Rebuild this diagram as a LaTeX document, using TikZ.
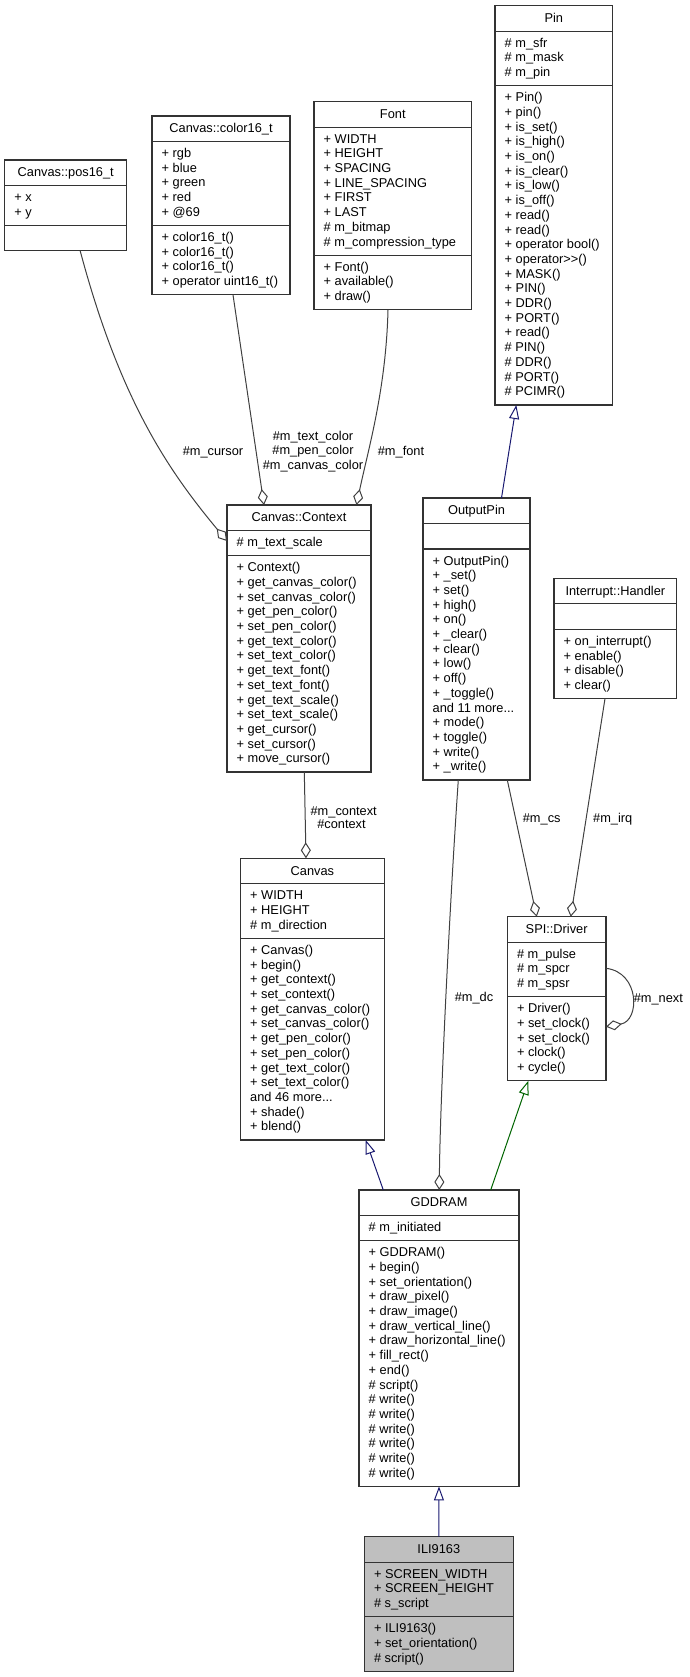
\documentclass[tikz,border=0pt]{standalone}
\usepackage{fontspec}
\setmainfont{Liberation Sans}
\usetikzlibrary{arrows.meta,calc}
\definecolor{edgegray}{HTML}{404040}
\definecolor{boxline}{HTML}{333333}
\definecolor{midblue}{HTML}{191970}
\definecolor{dkgreen}{HTML}{006400}
\definecolor{focusgray}{HTML}{BFBFBF}
\def\boxfill{white}
\newcommand\mdots{...}
\tikzset{
  classbox/.style={draw=boxline, line width=1.1pt, inner sep=0pt, outer sep=0pt},
  sepline/.style={draw=boxline, line width=1.1pt},
  txt/.style={inner sep=0pt, font=\fontsize{12.8}{14.7}\selectfont},
  lbl/.style={inner sep=0pt, anchor=base, font=\fontsize{12.8}{14.7}\selectfont},
  usage/.style={draw=edgegray, line width=1pt, -{Diamond[open, length=16pt, width=10pt, line width=1pt]}},
  inherit/.style={draw=midblue, line width=1pt, -{Triangle[open, length=14pt, width=10pt, line width=1pt]}},
  inheritp/.style={draw=dkgreen, line width=1pt, -{Triangle[open, length=14pt, width=10pt, line width=1pt]}}
}
% #1 name, #2 x, #3 y (top), #4 width, #5 title, #6 n attrs, #7 attrs, #8 n methods, #9 methods
\newcommand\umlclass[9]{%
  \pgfmathsetmacro\hT{25.5}%
  \pgfmathsetmacro\hA{(#6==0)*25.5+(#6>0)*(14.7*#6+10.5)}%
  \pgfmathsetmacro\hM{(#8==0)*25.5+(#8>0)*(14.7*#8+10.5)}%
  \pgfmathsetmacro\hH{\hT+\hA+\hM}%
  \pgfmathsetmacro\hB{\hT+\hA}%
  \node[classbox, fill=\boxfill, minimum width=#4pt, minimum height=\hH pt, anchor=north west] (#1) at (#2,#3) {};
  \node[txt, anchor=base] (#1-t) at ($(#1.north)+(0,16.8)$) {#5};
  \draw[sepline] ($(#1.north west)+(0,\hT)$) -- ($(#1.north east)+(0,\hT)$);
  \draw[sepline] ($(#1.north west)+(0,\hB)$) -- ($(#1.north east)+(0,\hB)$);
  \ifnum#6>0
    \foreach \itm [count=\cnt] in {#7} {\node[txt, anchor=base west] (#1-a\cnt) at ($(#1.north west)+(9.5,\hT+16+14.7*\cnt-14.7)$) {\itm};}
  \fi
  \ifnum#8>0
    \foreach \itm [count=\cnt] in {#9} {\node[txt, anchor=base west] (#1-m\cnt) at ($(#1.north west)+(9.5,\hB+16+14.7*\cnt-14.7)$) {\itm};}
  \fi
}
\begin{document}
\begin{tikzpicture}[x=1pt, y=-1pt]
\useasboundingbox (0,0) rectangle (690,1677);

\umlclass{pin}{495}{5.7}{117.7}{Pin}{3}{\# m\_sfr, \# m\_mask, \# m\_pin}{21}{+ Pin(), + pin(), + is\_set(), + is\_high(), + is\_on(), + is\_clear(), + is\_low(), + is\_off(), + read(), + read(), + operator bool(), + operator>{}>(), + MASK(), + PIN(), + DDR(), + PORT(), + read(), \# PIN(), \# DDR(), \# PORT(), \# PCIMR()}

\umlclass{pos}{4.7}{160}{122}{Canvas::pos16\_t}{2}{+ x, + y}{0}{}

\umlclass{col}{152}{116}{138}{Canvas::color16\_t}{5}{+ rgb, + blue, + green, + red, + @69}{4}{+ color16\_t(), + color16\_t(), + color16\_t(), + operator uint16\_t()}

\umlclass{font}{314}{101.7}{157.5}{Font}{8}{+ WIDTH, + HEIGHT, + SPACING, + LINE\_SPACING, + FIRST, + LAST, \# m\_bitmap, \# m\_compression\_type}{3}{+ Font(), + available(), + draw()}

\umlclass{ctx}{227}{505}{144}{Canvas::Context}{1}{\# m\_text\_scale}{14}{+ Context(), + get\_canvas\_color(), + set\_canvas\_color(), + get\_pen\_color(), + set\_pen\_color(), + get\_text\_color(), + set\_text\_color(), + get\_text\_font(), + set\_text\_font(), + get\_text\_scale(), + set\_text\_scale(), + get\_cursor(), + set\_cursor(), + move\_cursor()}

\umlclass{op}{423}{498}{107}{OutputPin}{0}{}{15}{+ OutputPin(), + \_set(), + set(), + high(), + on(), + \_clear(), + clear(), + low(), + off(), + \_toggle(), and 11 more\mdots, + mode(), + toggle(), + write(), + \_write()}

\umlclass{hd}{554}{578.3}{122.7}{Interrupt::Handler}{0}{}{4}{+ on\_interrupt(), + enable(), + disable(), + clear()}

\umlclass{cv}{240.5}{858.3}{143.8}{Canvas}{3}{+ WIDTH, + HEIGHT, \# m\_direction}{13}{+ Canvas(), + begin(), + get\_context(), + set\_context(), + get\_canvas\_color(), + set\_canvas\_color(), + get\_pen\_color(), + set\_pen\_color(), + get\_text\_color(), + set\_text\_color(), and 46 more\mdots, + shade(), + blend()}

\umlclass{spi}{507.3}{916.7}{98.7}{SPI::Driver}{3}{\# m\_pulse, \# m\_spcr, \# m\_spsr}{5}{+ Driver(), + set\_clock(), + set\_clock(), + clock(), + cycle()}

\umlclass{gd}{359}{1190}{160}{GDDRAM}{1}{\# m\_initiated}{16}{+ GDDRAM(), + begin(), + set\_orientation(), + draw\_pixel(), + draw\_image(), + draw\_vertical\_line(), + draw\_horizontal\_line(), + fill\_rect(), + end(), \# script(), \# write(), \# write(), \# write(), \# write(), \# write(), \# write()}

\def\boxfill{focusgray}
\umlclass{ili}{364.3}{1536.7}{149}{ILI9163}{3}{+ SCREEN\_WIDTH, + SCREEN\_HEIGHT, \# s\_script}{3}{+ ILI9163(), + set\_orientation(), \# script()}

% connectors
\draw[usage] ($(pos.south west)+(75.5,0)$) .. controls (120,400) and (168,470) .. ($(ctx.north west)+(0,36)$);
\draw[usage] ($(col.south west)+(81,0)$) -- ($(ctx.north west)+(37,0)$);
\draw[usage] ($(font.south west)+(74,0)$) .. controls (386,390) and (368,450) .. ($(ctx.north west)+(129.5,0)$);
\draw[usage] ($(ctx.south west)+(77.3,0)$) -- ($(cv.north west)+(65.5,0)$);
\draw[inherit] ($(op.north west)+(78.5,0)$) -- ($(pin.south west)+(21.3,0)$);
\draw[usage] ($(op.south west)+(35.3,0)$) .. controls (450,900) and (440,1100) .. ($(gd.north west)+(80.3,0)$);
\draw[usage] ($(op.south west)+(84.3,0)$) -- ($(spi.north west)+(29.4,0)$);
\draw[usage] ($(hd.south west)+(51,0)$) -- ($(spi.north west)+(63.4,0)$);
\draw[usage] ($(spi.north east)+(0,51.6)$) .. controls +(34,4) and +(34,-6) .. ($(spi.north east)+(0,110)$);
\draw[inherit] ($(gd.north west)+(24.3,0)$) -- ($(cv.south west)+(125.2,0)$);
\draw[inheritp] ($(gd.north west)+(131.7,0)$) -- ($(spi.south west)+(21,0)$);
\draw[inherit] (ili.north) -- (gd.south);

% labels
\node[lbl] (l-cursor) at (213,455) {\#m\_cursor};
\node[lbl] (l-tc) at (313,440) {\#m\_text\_color};
\node[lbl] (l-pc) at (313,454.7) {\#m\_pen\_color};
\node[lbl] (l-cc) at (313,469.4) {\#m\_canvas\_color};
\node[lbl] (l-font) at (401,455) {\#m\_font};
\node[lbl] (l-mctx) at (343.7,815) {\#m\_context};
\node[lbl] (l-ctx) at (341.5,828.7) {\#context};
\node[lbl] (l-dc) at (474,1001.5) {\#m\_dc};
\node[lbl] (l-cs) at (541.7,822.5) {\#m\_cs};
\node[lbl] (l-irq) at (612.7,822.5) {\#m\_irq};
\node[lbl] (l-next) at (658.3,1002.5) {\#m\_next};
\end{tikzpicture}
\end{document}
